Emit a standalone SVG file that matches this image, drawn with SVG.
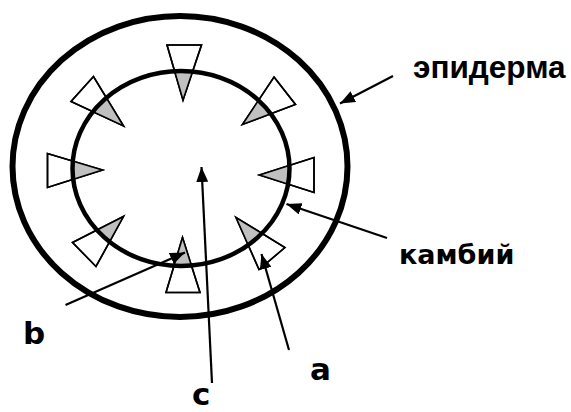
<svg xmlns="http://www.w3.org/2000/svg" width="571" height="412" viewBox="0 0 571 412">
<style>
.tri{fill:#fff;stroke:#000;stroke-width:1.6;stroke-linejoin:miter}
.trig{fill:#c0c0c0;stroke:none}
.tro{fill:none;stroke:#000;stroke-width:1.6}
.con{stroke:#000;stroke-width:2.2;fill:none}
.lbl{font-family:"DejaVu Sans",sans-serif;font-weight:bold;fill:#000}
.lbl2{font-family:"Liberation Sans",Arial,sans-serif;font-weight:bold;fill:#000}
</style>
<defs>
<marker id="ah" markerUnits="userSpaceOnUse" markerWidth="16" markerHeight="12" refX="15" refY="6" orient="auto">
<path d="M0,0 L15,6 L0,12 z" fill="#000"/>
</marker>
<clipPath id="inner"><ellipse cx="181" cy="168.5" rx="108.5" ry="97.5"/></clipPath>
<polygon id="t1" points="167,45 201.5,45 183,100"/>
<polygon id="t2" points="274,77 295.5,104.5 242.5,124.5"/>
<polygon id="t3" points="314,157.5 314,192.5 259.5,175"/>
<polygon id="t4" points="285,247.5 259,269.5 236,217.5"/>
<polygon id="t5" points="166,292.5 200,292.5 182.5,237.5"/>
<polygon id="t6" points="72.5,242.5 96,266.5 123.5,216.5"/>
<polygon id="t7" points="47.5,153.5 47.5,187.5 102.5,170"/>
<polygon id="t8" points="93.5,76.5 71,101.5 123.5,126"/>
</defs>
<g id="epidermis"><ellipse cx="180" cy="166.5" rx="167.5" ry="150.5" fill="none" stroke="#000" stroke-width="6"/></g>
<g id="bundles">
<use href="#t1" class="tri"/><use href="#t2" class="tri"/><use href="#t3" class="tri"/><use href="#t4" class="tri"/>
<use href="#t5" class="tri"/><use href="#t6" class="tri"/><use href="#t7" class="tri"/><use href="#t8" class="tri"/>
<g clip-path="url(#inner)">
<use href="#t1" class="trig"/><use href="#t2" class="trig"/><use href="#t3" class="trig"/><use href="#t4" class="trig"/>
<use href="#t5" class="trig"/><use href="#t6" class="trig"/><use href="#t7" class="trig"/><use href="#t8" class="trig"/>
</g>
<use href="#t1" class="tro"/><use href="#t2" class="tro"/><use href="#t3" class="tro"/><use href="#t4" class="tro"/>
<use href="#t5" class="tro"/><use href="#t6" class="tro"/><use href="#t7" class="tro"/><use href="#t8" class="tro"/>
</g>
<g id="cambium"><ellipse cx="181" cy="168.5" rx="108.5" ry="97.5" fill="none" stroke="#000" stroke-width="4.5"/></g>
<g id="connectors">
<line class="con" x1="393" y1="76" x2="340" y2="103.5" marker-end="url(#ah)"/>
<line class="con" x1="387" y1="238" x2="286.5" y2="204" marker-end="url(#ah)"/>
<line class="con" x1="212" y1="383" x2="201.5" y2="167" marker-end="url(#ah)"/>
<line class="con" x1="65.5" y1="305" x2="185" y2="252.5" marker-end="url(#ah)"/>
<line class="con" x1="289" y1="350" x2="261.5" y2="254" marker-end="url(#ah)"/>
</g>
<g id="labels">
<text class="lbl2" x="413" y="78" font-size="31.5">эпидерма</text>
<text class="lbl" x="399" y="264" font-size="27">камбий</text>
<text class="lbl" x="23" y="343.5" font-size="31">b</text>
<text class="lbl" x="310" y="380" font-size="31">a</text>
<text class="lbl" x="192" y="405" font-size="31">c</text>
</g>
</svg>
